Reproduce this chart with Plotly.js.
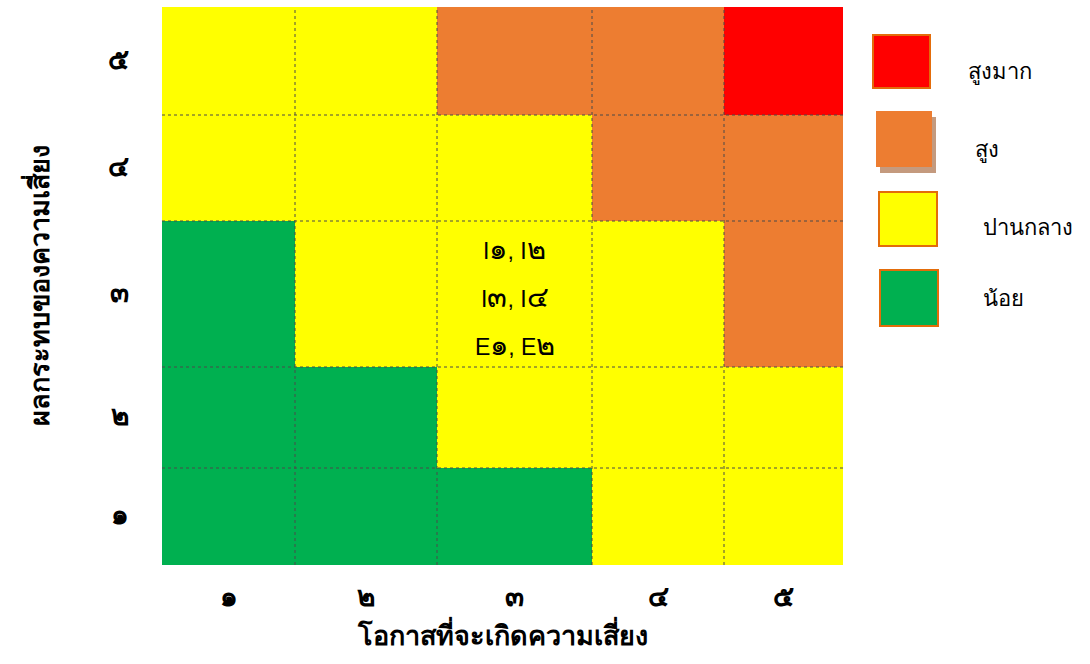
<!DOCTYPE html>
<html>
<head>
<meta charset="utf-8">
<script src="https://cdn.plot.ly/plotly-3.0.1.min.js"></script>
<style>html,body{margin:0;padding:0;background:#fff;}#chart{width:1090px;height:664px;}</style>
</head>
<body>
<div id="chart"></div>
<script>
// ---- data ----
const likelihoodLabels = ['๑', '๒', '๓', '๔', '๕'];
const impactLabels = ['๑', '๒', '๓', '๔', '๕'];
// risk level per cell, rows = impact ๑..๕ (bottom to top), columns = likelihood ๑..๕
// 1 = น้อย, 2 = ปานกลาง, 3 = สูง, 4 = สูงมาก
const riskLevel = [
  [1, 1, 1, 2, 2],
  [1, 1, 2, 2, 2],
  [1, 2, 2, 2, 3],
  [2, 2, 2, 3, 3],
  [2, 2, 3, 3, 4]
];
const levelNames = ['น้อย', 'ปานกลาง', 'สูง', 'สูงมาก'];
const cellItems = ['I๑, I๒', 'I๓, I๔', 'E๑, E๒'];
const itemsLikelihood = 3;
const itemsImpact = 3;
const xTitle = 'โอกาสที่จะเกิดความเสี่ยง';
const yTitle = 'ผลกระทบของความเสี่ยง';

// ---- layout geometry / styles ----
const levelColors = ['#00B050', '#FFFF00', '#ED7D31', '#FF0000'];
const colWidths = [133, 142, 155, 132, 119];
const rowHeights = [97, 101, 146, 106, 108];
const FONT = '"Noto Sans", "DejaVu Sans", sans-serif';
const CELLFONT = '"Liberation Sans", "DejaVu Sans", sans-serif';
const W = 1090, H = 664;
const M = {l: 162, r: 247, t: 7, b: 99};

function edges(sizes) { const e = [0]; sizes.forEach(s => e.push(e[e.length - 1] + s)); return e; }
const xEdges = edges(colWidths);
const yEdges = edges(rowHeights);
const mids = e => e.slice(0, -1).map((v, i) => (v + e[i + 1]) / 2);
const xMid = mids(xEdges), yMid = mids(yEdges);

// enlarge Thai digits, which the fallback font draws small
const bigDigits = (s, size) => s.replace(/[๐-๙]/g, d => '<span style="font-size:' + size + 'px">' + d + '</span>');

const n = levelColors.length;
const colorscale = [];
levelColors.forEach((c, i) => { colorscale.push([i / n, c]); colorscale.push([(i + 1) / n, c]); });

const heat = {
  type: 'heatmap', x: xEdges, y: yEdges, z: riskLevel,
  zmin: 0.5, zmax: n + 0.5, colorscale: colorscale, showscale: false, hoverinfo: 'skip'
};

// dotted cell borders
const gx = [], gy = [];
xEdges.slice(1, -1).forEach(v => { gx.push(v, v, null); gy.push(yEdges[0], yEdges[yEdges.length - 1], null); });
yEdges.slice(1, -1).forEach(v => { gx.push(xEdges[0], xEdges[xEdges.length - 1], null); gy.push(v, v, null); });
const grid = {
  type: 'scatter', mode: 'lines', x: gx, y: gy, hoverinfo: 'skip', showlegend: false,
  line: {color: '#4a4a4a', width: 1, dash: 'dot'}
};

const pw = W - M.l - M.r, ph = H - M.t - M.b;
const px = x => (x - M.l) / pw;
const py = y => (H - M.b - y) / ph;

const annotations = [];
cellItems.forEach((t, i) => {
  annotations.push({
    x: xMid[itemsLikelihood - 1], y: yMid[itemsImpact - 1], xref: 'x', yref: 'y',
    text: bigDigits(t, 29), showarrow: false, yshift: (1 - i) * 48 - 3,
    font: {family: CELLFONT, size: 23, color: '#000'}
  });
});

// legend
const legendBoxes = [
  {x0: 873, x1: 930, y0: 35, y1: 88, tx: 966, ty: 70},
  {x0: 876, x1: 932, y0: 111, y1: 167, tx: 973, ty: 148},
  {x0: 879, x1: 937, y0: 192, y1: 246, tx: 981, ty: 226},
  {x0: 880, x1: 938, y0: 270, y1: 326, tx: 981, ty: 297}
];
const legendOrder = [3, 2, 1, 0];
const shapes = [];
legendOrder.forEach((lv, i) => {
  const b = legendBoxes[i];
  if (lv === 2) {
    shapes.push({type: 'rect', xref: 'paper', yref: 'paper', x0: px(b.x0 + 4), x1: px(b.x1 + 4), y0: py(b.y0 + 6), y1: py(b.y1 + 6),
      fillcolor: '#C49A7E', line: {width: 0}, layer: 'above'});
    shapes.push({type: 'rect', xref: 'paper', yref: 'paper', x0: px(b.x0), x1: px(b.x1), y0: py(b.y0), y1: py(b.y1),
      fillcolor: levelColors[lv], line: {width: 0}, layer: 'above'});
  } else {
    shapes.push({type: 'rect', xref: 'paper', yref: 'paper', x0: px(b.x0), x1: px(b.x1), y0: py(b.y0), y1: py(b.y1),
      fillcolor: levelColors[lv], line: {color: '#E36C0A', width: 2}, layer: 'above'});
  }
  annotations.push({
    xref: 'paper', yref: 'paper', x: px(b.tx), y: py(b.ty), xanchor: 'left', yanchor: 'middle',
    text: levelNames[lv], showarrow: false, font: {family: FONT, size: 22, color: '#000'}
  });
});

const layout = {
  width: W, height: H, margin: M, paper_bgcolor: '#fff', plot_bgcolor: '#fff',
  showlegend: false,
  xaxis: {
    range: [xEdges[0], xEdges[xEdges.length - 1]], tickvals: xMid, ticktext: likelihoodLabels.map(d => bigDigits(d, 28)),
    showgrid: false, zeroline: false, showline: false, ticks: 'outside', ticklen: 14, tickcolor: 'rgba(0,0,0,0)',
    tickfont: {family: FONT, size: 22, color: '#000', weight: 'bold'},
    title: {text: '<b>' + xTitle + '</b>', font: {family: FONT, size: 27, color: '#000'}, standoff: 12},
    fixedrange: true
  },
  yaxis: {
    range: [yEdges[0], yEdges[yEdges.length - 1]], tickvals: yMid, ticktext: impactLabels.map(d => bigDigits(d, 28)),
    showgrid: false, zeroline: false, showline: false, ticks: 'outside', ticklen: 28, tickcolor: 'rgba(0,0,0,0)',
    tickfont: {family: FONT, size: 22, color: '#000', weight: 'bold'},
    title: {text: '<b>' + yTitle + '</b>', font: {family: FONT, size: 27, color: '#000'}, standoff: 50},
    fixedrange: true
  },
  shapes: shapes,
  annotations: annotations
};

Plotly.newPlot('chart', [heat, grid], layout, {displayModeBar: false, staticPlot: true});
</script>
</body>
</html>
